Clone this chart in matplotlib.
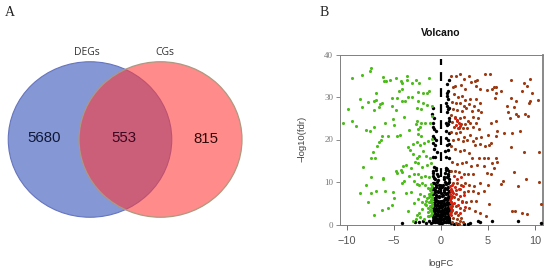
import matplotlib
matplotlib.use("Agg")
from matplotlib import pyplot as plt
from matplotlib.patches import Ellipse

plt.rcParams['font.family'] = ['Liberation Sans', 'DejaVu Sans']

venn_names = ["DEGs", "CGs"]
venn_counts = [5680, 553, 815]

# logFC, -log10(fdr)
green_fc = [-7.4,-7.55,-9.5,-8.4,-6.2,-6.1,-5.8,-5.4,-4.8,-4.3,-4.2,-3.6,-3.6,-3.1,-2.7,-2.3,-1.3,
            -4.1,-4.5,-6.9,-8.6,-7.8,-7.1,-6.9,-6.3,-6.5,-5.2,-4.7,-4.2,-3.8,-3.5,-3.1,-2.5,-1.9,-1.5,-1.25,
            -2.5,-1.9,-1.5,-1.0,-9.9,-8.4,-7.1,-6.6,-5.2,-4.8,-2.6,-2.1,-9.5,-10.4,-9.0,-8.0,-7.6,-7.1,-6.0,
            -5.1,-5.0,-3.9,-2.6,-2.7,-2.1,-1.7,-1.0,-1.2,-3.4,-4.4,-4.7,-5.6,-6.3,-2.4,-2.1,-2.4,-2.2,
            -6.4,-6.6,-6.8,-7.2,-7.4,-7.0,-8.3,-4.8,-4.3,-4.0,-3.3,-3.0,-2.6,-2.3,-1.9,-1.6,-1.2,-3.7,-3.2,
            -2.8,-2.4,-2.0,-1.5,-1.1,-3.5,-3.0,-2.6,-2.2,-1.8,-1.4,-1.0,-4.7,-4.1,-3.4,-2.9,-2.5,-2.1,-1.7,-1.3,
            -7.5,-6.2,-6.2,-8.0,-3.9,-4.1,-2.9,-2.6,-2.3,-2.0,-1.7,-1.4,-1.1,-6.9,-7.4,-8.6,-6.0,-5.1,-5.0,-3.7,
            -3.2,-2.2,-1.8,-1.5,-1.3,-1.1,-1.0,-7.8,-5.2,-5.6,-6.3,-7.1,-3.5,-2.9,-2.5,-2.0,-1.6,-1.2,-1.0,-2.6,-2.2,-1.8,-1.4,-1.1,
            -1.0,-1.1,-1.2,-0.95,-1.05,-1.15,-1.3,-1.0,-1.1,-1.25,-0.95,-1.0,-1.2,-1.4,-1.05,-1.15,-1.35,-1.0,-1.1,-1.3,-1.55,-1.7,-2.0,-2.3,-2.7,-3.0]
green_fdr = [36.9,36.2,34.5,35.2,34.6,33.8,33.8,33.9,34.4,33.8,33.2,34.9,34.1,33.2,34,33.2,34.5,
             31.8,31.4,30.9,29.5,28.9,29,29.3,28.7,28.3,29.8,29.8,29,29,30,30,31.1,30.9,31,31.3,
             29,28.7,28.2,27.8,27.2,27.6,27,27.7,27.8,27,27.5,27.1,24.4,23.8,23.2,22.3,22,23,23.8,
             24.9,23.4,25.4,24.4,23.6,24,24,25.5,24,22.2,21,20.9,20.9,20.9,21.3,20.9,22.4,22.9,
             20,19.5,18.5,17,15.6,15.6,13.6,12.5,12.9,13.8,17.5,16.6,15.7,16.2,17.2,16.1,15.6,14,13.2,
             14.8,14.4,13.5,13.9,14.5,18.2,18.9,19.4,18.6,19.2,19.7,20.2,12.2,12.4,11.5,11.8,12,11.2,11.4,11.1,
             11.2,10.6,11,9.2,10.3,9.8,10.2,9.6,9.2,9.8,9.2,8.7,9.6,7.8,7.4,7.4,7.8,7.6,6.2,7.4,
             7.6,7.2,6.7,6.2,7.2,5.8,6.4,5.2,4.6,3.8,3.3,2.2,3.1,5.1,5.9,5.3,4.6,5.2,4.4,2.2,1.7,1.4,2.1,3.1,
             9.0,8.6,8.2,7.7,7.3,6.9,6.5,6.1,5.7,5.4,5.0,4.6,4.3,4.0,3.6,3.3,3.0,2.6,2.2,1.9,5.6,4.8,3.6,2.6,1.2,0.9]

red_fc = [1.1,1.6,2.0,2.4,3.0,3.6,3.8,4.7,5.2,5.6,5.9,7.4,8.8,9.2,9.5,1.3,1.5,2.1,2.6,3.2,3.7,4.2,4.9,5.4,5.9,6.4,
          8.6,9.7,1.4,1.8,2.2,2.6,3.1,3.7,5.7,7.4,8.0,9.5,10.3,1.2,1.6,2.0,2.5,3.0,3.5,4.2,7.0,7.8,9.4,
          1.3,1.7,2.2,2.7,3.3,3.9,4.3,7.1,7.3,8.0,8.9,1.1,1.5,2.0,2.4,2.9,3.4,3.9,5.3,5.8,8.2,9.3,
          1.2,1.7,2.1,2.6,3.1,3.7,1.4,1.9,2.3,2.8,3.4,4.0,6.0,6.7,7.6,8.4,1.1,1.6,2.0,2.5,3.1,3.7,4.3,5.0,5.8,
          1.3,1.8,2.3,2.8,3.4,3.6,4.1,4.7,5.1,5.3,7.4,8.8,10.4,1.1,1.5,2.0,2.4,3.0,3.3,4.0,4.6,5.0,5.8,6.0,
          1.2,1.7,2.2,2.7,3.2,3.8,4.6,5.4,5.6,7.8,1.1,1.5,1.9,2.4,2.9,3.4,4.9,5.3,6.4,6.6,9.0,10.4,
          1.3,1.7,2.1,2.6,3.0,3.5,4.1,5.0,8.2,1.2,1.6,2.0,2.4,2.9,3.4,3.9,4.6,10.6,
          1.1,1.4,1.8,2.2,2.7,3.2,3.7,5.1,7.6,7.9,8.6,9.2,1.2,1.6,2.0,2.5,3.0,3.6,4.2,4.8,
          1.1,1.5,1.8,2.1,1.3,1.7,2.0,2.3,1.2,1.6,1.9]
red_fdr = [35,35,35.3,34.3,35,33.8,34,35.5,35.3,32.3,32.4,34,33.3,32.5,34.2,32.4,32.5,32.8,32,33.6,32.7,31.8,31.6,32,31,31.4,
           31.5,31,30.7,30,30.2,29.4,29.5,29.6,29.7,29.8,29,29,29.2,28.9,28.6,28.6,28,28.4,28,28.7,28,27.6,28.6,
           27.2,27,26.7,27.4,26.6,27,26.5,26.4,25,26,26,25.8,25.2,25,25.4,24.3,25.2,25,24,24.4,25.5,25.5,
           24.2,24.4,23.6,23.6,24,23.8,23,22.6,22.6,22.6,23,22.4,22,21.6,21.6,22,21.8,21.6,21.8,20.7,21.1,20.4,20.7,21.1,20.8,
           20,20.2,19.6,20,19.6,18.6,19,18.4,18.8,19.1,18.2,17.1,17,18.5,17.8,17.2,17.6,16.8,15.7,15.6,15.6,15.6,15.6,14.8,
           14.6,14.2,14.4,14.8,13.8,14,13.8,14.4,13.4,12.4,12.6,12.6,12.3,12,11.9,12,12.1,11.8,9.6,10.2,10.7,10,
           9.8,9.8,9.4,9.8,9.2,9,9.7,9.3,9,8,8.2,8.3,7.6,7.9,7.8,7.4,8,4.9,
           6.4,6.4,6.1,5.6,5.2,5.6,5.6,4.8,3.2,3.1,2.8,2.5,4.4,4.4,3.9,3.4,3.9,3.2,2.6,2.1,
           3.0,2.6,2.2,1.6,1.6,1.2,0.8,0.6,0.5,0.3,0.2]

# the brighter red points close to the threshold
bright_fc = [1.5,1.7,1.9,1.6,1.8,2.0,1.4,1.7,2.1,1.2,1.5,1.9,2.3,1.3,1.6,2.0,2.4,1.1,1.4,1.8,2.2,2.6,1.2,1.6,2.0,
             1.0,1.05,1.1,1.0,1.15,1.05,1.0,1.1,1.2,1.0,1.05,1.15,1.0,1.1]
bright_fdr = [25.0,24.5,24.0,23.4,22.8,23.2,11.5,10.8,11.2,9.4,8.8,8.4,9.0,7.5,7.1,6.6,6.9,5.4,5.0,4.6,5.2,4.2,3.4,3.0,2.6,
              9.0,8.4,7.8,7.2,6.8,6.3,5.8,5.3,4.8,4.3,3.8,3.3,2.8,2.3]

black_fc = [0.85,0.65,0.7,0.65,0.6,0.75,0.5,0.65,0.7,0.6,0.8,0.85,-0.9,-1.0,-0.75,-0.8,-0.85,0.55,0.6,0.75,0.85,-0.7,-0.55,0.55,0.8,
            -0.85,-0.7,-0.5,0.5,0.7,-0.8,-0.6,0.6,0.85,-0.75,-0.45,0.45,0.7,-0.9,-0.65,0.55,0.8,-0.7,-0.5,0.5,0.65,-0.8,-0.4,0.4,0.7,
            -0.85,-0.6,-0.3,0.3,0.6,0.85,-0.75,-0.5,-0.2,0.2,0.5,0.75,-0.9,-0.65,-0.35,0.35,0.65,0.9,-0.8,-0.55,-0.25,0.25,0.55,0.8,
            -0.85,-0.7,-0.5,-0.3,-0.1,0.1,0.3,0.5,0.7,0.85,-0.9,-0.75,-0.6,-0.4,-0.2,0.0,0.2,0.4,0.6,0.75,0.9,
            -0.95,-0.8,-0.65,-0.45,-0.25,-0.05,0.15,0.35,0.55,0.7,0.85,-0.85,-0.7,-0.55,-0.35,-0.15,0.05,0.25,0.45,0.6,0.8,0.95,
            -0.9,-0.75,-0.6,-0.4,-0.2,0.0,0.2,0.4,0.6,0.75,0.9,-0.85,-0.65,-0.45,-0.25,-0.05,0.15,0.35,0.55,0.7,0.85,
            -4.2,-2.8,-2.3,-1.9,-1.6,-1.3,-1.1,1.1,1.4,1.8,2.4,2.9,3.1,3.9,4.2,5.4,8.2,10.6,
            -0.9,-0.6,-0.3,0.0,0.3,0.6,0.9,-0.8,-0.5,-0.2,0.1,0.4,0.7,-0.9,-0.6,-0.3,0.0,0.3,0.6,0.9,-0.8,-0.5,-0.2,0.1,0.4,0.7,
            -0.9,-0.6,-0.3,0.0,0.3,0.6,0.9,-0.8,-0.5,-0.2,0.1,0.4,0.7,-0.9,-0.6,-0.3,0.0,0.3,0.6,0.9,-0.8,-0.5,-0.2,0.1,0.4,0.7,
            -0.8,-0.45,0.45,0.8,-0.7,-0.35,0.35,0.7,-0.85,-0.55,0.55,0.85]
black_fdr = [34,33,31.5,31,30.2,29.5,28.5,28,27.2,26.5,27.5,25,27.4,26,25,24,23,24,23.4,23.6,24.3,22.5,22,22,21.6,
             20.8,20.3,20,20.3,20,19.2,18.8,18.8,19,17.8,17,17.4,17.6,16,15.8,16,15.6,13.6,13.2,13.4,13,12.2,12,12.2,12,
             11.4,10.8,10.4,10.6,11.2,10.8,9.8,9.4,9.2,9.4,9.6,9.8,8.4,8.2,8,8.2,8.4,8,7.2,7,6.8,6.9,7.2,7,
             6.2,6,5.8,5.6,5.4,5.5,5.7,5.9,6,6.1,5,4.8,4.6,4.5,4.3,4.4,4.6,4.7,4.9,5,4.8,
             3.8,3.6,3.5,3.3,3.1,3.2,3.4,3.5,3.7,3.8,3.6,2.8,2.6,2.5,2.3,2.2,2.4,2.5,2.6,2.7,2.8,2.6,
             1.7,1.6,1.5,1.3,1.2,1.3,1.4,1.5,1.6,1.7,1.5,0.7,0.6,0.5,0.4,0.3,0.4,0.5,0.6,0.7,0.5,
             0.3,0.6,0.5,0.8,0.4,0.9,0.3,0.4,0.2,0.2,0.2,0.1,0.3,0.8,0.7,0.8,0.9,0.4,
             1.0,1.1,0.9,1.0,0.9,1.1,1.0,2.0,2.1,1.9,2.0,2.1,1.9,3.0,3.1,2.9,3.0,2.9,3.1,3.0,4.1,4.0,3.9,4.1,4.0,4.1,
             5.1,5.2,5.0,5.1,5.0,5.2,5.1,6.3,6.5,6.4,6.6,6.3,6.5,7.4,7.6,7.7,7.5,7.6,7.4,7.5,8.6,8.8,8.7,8.9,8.6,8.8,
             9.8,10.0,9.9,10.1,11.0,11.4,11.2,11.3,12.6,12.9,12.8,12.5]

fig = plt.figure(figsize=(5.5, 2.72), dpi=100)

# panel A, pixel coordinates
bg = fig.add_axes([0, 0, 1, 1])
bg.set_xlim(0, 550)
bg.set_ylim(272, 0)
bg.axis("off")
bg.add_patch(Ellipse((90, 139.5), 163.5, 155.5, facecolor=(0.25, 0.36, 0.74, 0.64), edgecolor=(0.40, 0.46, 0.75), lw=0.8))
bg.add_patch(Ellipse((160.5, 139.5), 163, 155.5, facecolor=(1.0, 0.22, 0.22, 0.58), edgecolor=(0.68, 0.60, 0.50), lw=0.9))
bg.text(87, 52.5, venn_names[0], ha="center", va="center", fontsize=7.5, color="#333333", family="Open Sans")
bg.text(164.5, 52.5, venn_names[1], ha="center", va="center", fontsize=7.5, color="#333333", family="Open Sans")
bg.text(44.5, 138.5, str(venn_counts[0]), ha="center", va="center", fontsize=10.8, color="#101838")
bg.text(124, 138, str(venn_counts[1]), ha="center", va="center", fontsize=10.8, color="#3a0820")
bg.text(206, 139, str(venn_counts[2]), ha="center", va="center", fontsize=10.8, color="#300808")
bg.text(10, 12, "A", ha="center", va="center", fontsize=10, family="Liberation Serif", color="#222222")
bg.text(324, 12, "B", ha="center", va="center", fontsize=10, family="Liberation Serif", color="#222222")

# panel B
left, right, top, bottom = 339.5, 542.5, 54.5, 224.5
ax = fig.add_axes([left / 550, 1 - bottom / 272, (right - left) / 550, (bottom - top) / 272])
ax.set_xlim(-10.8, 10.8)
ax.set_ylim(0, 40)
ax.scatter(black_fc, black_fdr, s=6, color="black", linewidths=0, zorder=3)
ax.scatter(green_fc, green_fdr, s=5, color="#4cbb1c", linewidths=0, zorder=3)
ax.scatter(red_fc, red_fdr, s=5, color="#9c3a14", linewidths=0, zorder=3)
ax.scatter(bright_fc, bright_fdr, s=5, color="#d8200f", linewidths=0, zorder=3)
ax.plot([0, 0], [0, 39], color="black", lw=1.6, linestyle=(0, (4, 3.2)), zorder=2)
for s in ax.spines.values():
    s.set_color("#808080")
    s.set_linewidth(0.7)
ax.spines["right"].set_linewidth(1.3)
ax.set_xticks([-10, -5, 0, 5, 10])
ax.set_xticklabels(["\u221210", "\u22125", "0", "5", "10"])
ax.set_yticks([0, 10, 20, 30, 40])
ax.tick_params(axis="x", labelsize=7.8, colors="#555555", length=3.5, width=0.6, pad=5)
ax.tick_params(axis="y", labelsize=6.5, colors="#777777", length=3, width=0.6, pad=1.5)
for t in ax.get_yticklabels():
    t.set_family("Liberation Serif")
bg.text(441, 32.5, "Volcano", ha="center", va="center", fontsize=7.5, fontweight="bold", color="#111111")
bg.text(441, 263, "logFC", ha="center", va="center", fontsize=6.8, color="#444444")
bg.text(302, 139, "\u2212log10(fdr)", ha="center", va="center", rotation=90, fontsize=6.8, color="#444444")

fig.savefig("out.png", dpi=100)
